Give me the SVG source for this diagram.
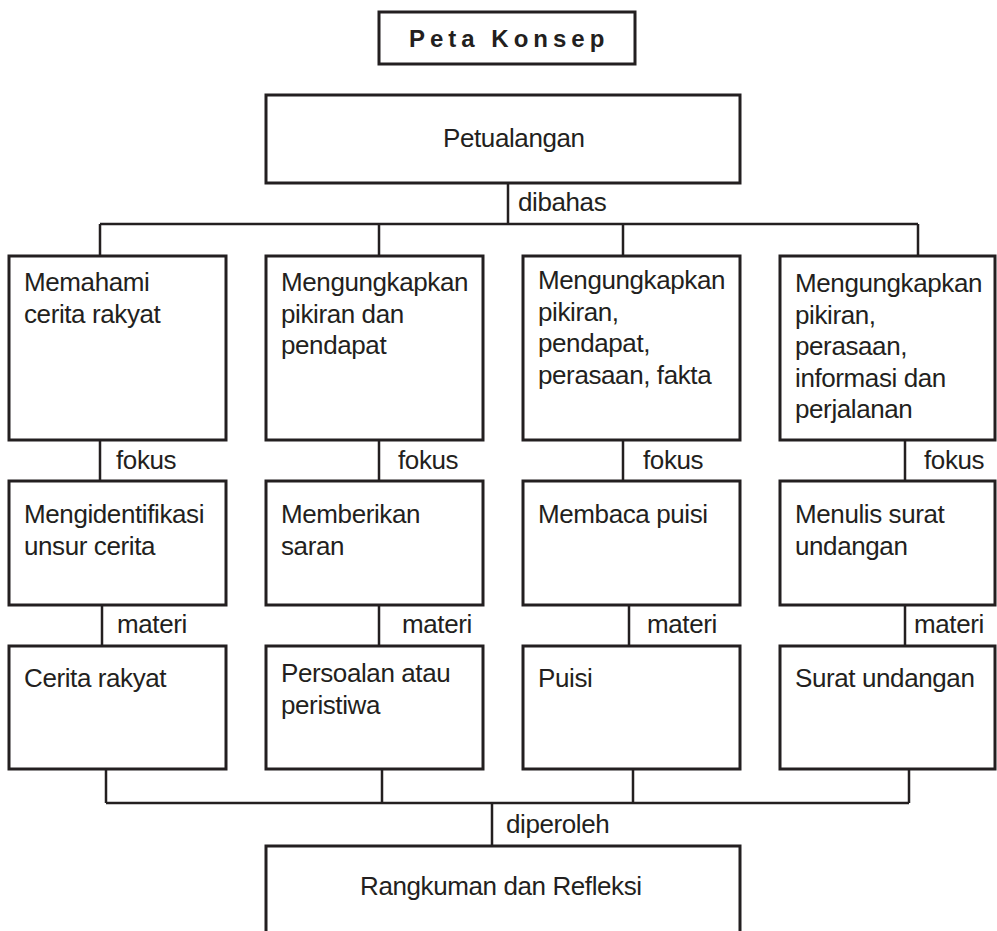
<svg xmlns="http://www.w3.org/2000/svg" width="997" height="931" viewBox="0 0 997 931">
<style>
.box{fill:#fff;stroke:#231f20;stroke-width:3}
.ln{fill:none;stroke:#231f20;stroke-width:2.5}
text{font-family:"Liberation Sans",Arial,sans-serif;font-size:26px;letter-spacing:-0.4px;fill:#231f20}
.title{font-weight:bold;font-size:24px;letter-spacing:5px}
</style>
<rect width="997" height="931" fill="#fff"/>
<g id="connectors">
<path class="ln" d="M508 183V224M100 224H918M100 224V256M379 224V256M623 224V256M918 224V256"/>
<path class="ln" d="M100 440V481M379 440V481M623 440V481M905 440V481"/>
<path class="ln" d="M102 605V646M379 605V646M629 605V646M905 605V646"/>
<path class="ln" d="M106 769V803M382 769V803M633 769V803M909 769V803M106 803H909M492 803V846"/>
<text x="518" y="211">dibahas</text>
<text x="116" y="469">fokus</text>
<text x="398" y="469">fokus</text>
<text x="643" y="469">fokus</text>
<text x="924" y="469">fokus</text>
<text x="117" y="633">materi</text>
<text x="402" y="633">materi</text>
<text x="647" y="633">materi</text>
<text x="914" y="633">materi</text>
<text x="506" y="833">diperoleh</text>
</g>
<g id="title"><rect class="box" x="379" y="12" width="256" height="52"/><text class="title" x="409" y="47">Peta Konsep</text></g>
<g id="petualangan"><rect class="box" x="266" y="95" width="474" height="88"/><text x="443" y="147">Petualangan</text></g>
<g id="r1c1"><rect class="box" x="9" y="256" width="217" height="184"/><text x="24" y="291">Memahami</text><text x="24" y="322.5">cerita rakyat</text></g>
<g id="r1c2"><rect class="box" x="266" y="256" width="217" height="184"/><text x="281" y="291">Mengungkapkan</text><text x="281" y="322.5">pikiran dan</text><text x="281" y="354">pendapat</text></g>
<g id="r1c3"><rect class="box" x="523" y="256" width="217" height="184"/><text x="538" y="289">Mengungkapkan</text><text x="538" y="320.5">pikiran,</text><text x="538" y="352">pendapat,</text><text x="538" y="383.5">perasaan, fakta</text></g>
<g id="r1c4"><rect class="box" x="780" y="256" width="215" height="184"/><text x="795" y="292">Mengungkapkan</text><text x="795" y="323.5">pikiran,</text><text x="795" y="355">perasaan,</text><text x="795" y="386.5">informasi dan</text><text x="795" y="418">perjalanan</text></g>
<g id="r2c1"><rect class="box" x="9" y="481" width="217" height="124"/><text x="24" y="523">Mengidentifikasi</text><text x="24" y="555">unsur cerita</text></g>
<g id="r2c2"><rect class="box" x="266" y="481" width="217" height="124"/><text x="281" y="523">Memberikan</text><text x="281" y="555">saran</text></g>
<g id="r2c3"><rect class="box" x="523" y="481" width="217" height="124"/><text x="538" y="523">Membaca puisi</text></g>
<g id="r2c4"><rect class="box" x="780" y="481" width="215" height="124"/><text x="795" y="523">Menulis surat</text><text x="795" y="555">undangan</text></g>
<g id="r3c1"><rect class="box" x="9" y="646" width="217" height="123"/><text x="24" y="687">Cerita rakyat</text></g>
<g id="r3c2"><rect class="box" x="266" y="646" width="217" height="123"/><text x="281" y="682">Persoalan atau</text><text x="281" y="714">peristiwa</text></g>
<g id="r3c3"><rect class="box" x="523" y="646" width="217" height="123"/><text x="538" y="687">Puisi</text></g>
<g id="r3c4"><rect class="box" x="780" y="646" width="215" height="123"/><text x="795" y="687">Surat undangan</text></g>
<g id="rangkuman"><path class="box" d="M266 940V846H740V940"/><text x="360" y="895">Rangkuman dan Refleksi</text></g>
</svg>
